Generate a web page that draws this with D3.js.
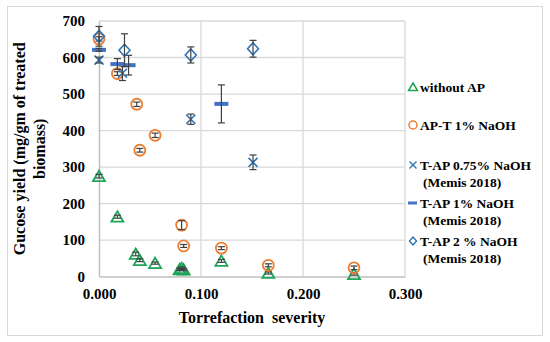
<!DOCTYPE html>
<html>
<head>
<meta charset="utf-8">
<script src="https://cdn.jsdelivr.net/npm/d3@7"></script>
<style>
  body { margin: 0; background: #fff; }
  svg { display: block; font-family: "Liberation Serif", "Times New Roman", serif; font-weight: bold; }
</style>
</head>
<body>
<svg width="550" height="342"></svg>
<script>
// data
var xTicks = [0, 0.1, 0.2, 0.3];
var yTicks = [0, 100, 200, 300, 400, 500, 600, 700];

var withoutApX = [0.000, 0.018, 0.036, 0.040, 0.055, 0.079, 0.081, 0.083, 0.120, 0.166, 0.250];
var withoutApY = [275, 164, 62, 45, 37, 20, 23, 19, 43, 10, 7];
var withoutApErr = [5, 4, 5, 4, 3, 3, 3, 3, 4, 3, 3];

var apTX = [0.000, 0.018, 0.037, 0.040, 0.055, 0.081, 0.083, 0.120, 0.166, 0.250];
var apTY = [651, 556, 472, 346, 387, 141, 84, 78, 31, 24];
var apTErr = [6, 5, 6, 5, 6, 12, 4, 4, 4, 5];

var tap075X = [0.000, 0.023, 0.090, 0.151];
var tap075Y = [593, 557, 431, 313];
var tap075Err = [8, 20, 14, 20];

var tap1X = [0.000, 0.018, 0.029, 0.120];
var tap1Y = [621, 582, 579, 473];
var tap1Err = [4, 15, 27, 52];

var tap2X = [0.000, 0.025, 0.090, 0.151];
var tap2Y = [658, 620, 607, 624];
var tap2Err = [27, 45, 22, 23];

var seriesNames = ["without AP", "AP-T 1% NaOH", "T-AP 0.75% NaOH", "T-AP 1% NaOH", "T-AP 2 % NaOH"];

var green = "#1ea55a", orange = "#ed7d31", blue = "#2e75b6", blueDash = "#4472c4";

var svg = d3.select("svg");
var plotLeft = 99, plotRight = 405, plotTop = 21, plotBottom = 276.6;

var x = d3.scaleLinear().domain([0, 0.3]).range([plotLeft, plotRight]);
var y = d3.scaleLinear().domain([0, 700]).range([plotBottom, plotTop]);

// chart border
svg.append("rect")
  .attr("x", 7.5).attr("y", 6.5).attr("width", 535).attr("height", 329)
  .attr("fill", "#fff").attr("stroke", "#d9d9d9");

// grid
svg.append("g").selectAll("line")
  .data(yTicks.slice(1))
  .enter().append("line")
  .attr("x1", plotLeft).attr("x2", plotRight)
  .attr("y1", function(d) { return y(d); }).attr("y2", function(d) { return y(d); })
  .attr("stroke", "#d9d9d9").attr("stroke-width", 1.3);

svg.append("g").selectAll("line")
  .data(xTicks.slice(1))
  .enter().append("line")
  .attr("x1", function(d) { return x(d); }).attr("x2", function(d) { return x(d); })
  .attr("y1", plotTop).attr("y2", plotBottom)
  .attr("stroke", "#d9d9d9").attr("stroke-width", 1.3);

// axes
var xAxis = svg.append("g")
  .attr("transform", "translate(0," + plotBottom + ")")
  .call(d3.axisBottom(x).tickValues(xTicks).tickSize(0).tickPadding(12).tickFormat(d3.format(".3f")));
var yAxis = svg.append("g")
  .attr("transform", "translate(" + plotLeft + ",0)")
  .call(d3.axisLeft(y).tickValues(yTicks).tickSize(0).tickPadding(14));

[xAxis, yAxis].forEach(function(a) {
  a.select(".domain").attr("stroke", "#bfbfbf").attr("stroke-width", 1.5);
  a.selectAll("text")
    .attr("fill", "#000")
    .style("font-family", "Liberation Serif, serif")
    .style("font-weight", "bold")
    .style("font-size", "15px");
});

// titles
svg.append("text")
  .attr("x", (plotLeft + plotRight) / 2).attr("y", 323)
  .attr("text-anchor", "middle")
  .style("font-size", "16px")
  .style("white-space", "pre")
  .text("Torrefaction  severity");

var yt = svg.append("text")
  .attr("transform", "translate(25," + ((plotTop + plotBottom) / 2) + ") rotate(-90)")
  .attr("text-anchor", "middle")
  .style("font-size", "16px");
yt.append("tspan").attr("x", 0).attr("dy", 0).text("Gucose yield (mg/gm of treated");
yt.append("tspan").attr("x", 0).attr("dy", 20).text("biomass)");

// error bars
function errorBars(xs, ys, errs) {
  var g = svg.append("g");
  xs.forEach(function(xv, i) {
    var cx = x(xv), y1 = y(ys[i] + errs[i]), y2 = y(ys[i] - errs[i]);
    g.append("line").attr("x1", cx).attr("x2", cx).attr("y1", y1).attr("y2", y2)
      .attr("stroke", "#404040").attr("stroke-width", 1.2);
    [y1, y2].forEach(function(yy) {
      g.append("line").attr("x1", cx - 3.5).attr("x2", cx + 3.5).attr("y1", yy).attr("y2", yy)
        .attr("stroke", "#404040").attr("stroke-width", 1.2);
    });
  });
}

var triangle = "M0,-5.5L6,5L-6,5Z";
var diamond = "M0,-6L5.5,0L0,6L-5.5,0Z";
var cross = "M-4.5,-4.5L4.5,4.5M-4.5,4.5L4.5,-4.5";

function drawShape(g, kind, cx, cy) {
  if (kind === "tri") {
    g.append("path").attr("d", triangle).attr("transform", "translate(" + cx + "," + cy + ")")
      .attr("fill", "none").attr("stroke", green).attr("stroke-width", 1.8);
  } else if (kind === "circle") {
    g.append("circle").attr("cx", cx).attr("cy", cy).attr("r", 5.5)
      .attr("fill", "none").attr("stroke", orange).attr("stroke-width", 1.8);
  } else if (kind === "cross") {
    g.append("path").attr("d", cross).attr("transform", "translate(" + cx + "," + cy + ")")
      .attr("fill", "none").attr("stroke", blue).attr("stroke-width", 1.6);
  } else if (kind === "dash") {
    g.append("rect").attr("x", cx - 7).attr("y", cy - 2).attr("width", 14).attr("height", 4)
      .attr("fill", blueDash);
  } else if (kind === "diamond") {
    g.append("path").attr("d", diamond).attr("transform", "translate(" + cx + "," + cy + ")")
      .attr("fill", "none").attr("stroke", blue).attr("stroke-width", 1.6);
  }
}

function series(xs, ys, errs, kind) {
  var g = svg.append("g");
  xs.forEach(function(xv, i) { drawShape(g, kind, x(xv), y(ys[i])); });
  errorBars(xs, ys, errs);
}

series(withoutApX, withoutApY, withoutApErr, "tri");
series(apTX, apTY, apTErr, "circle");
series(tap075X, tap075Y, tap075Err, "cross");
series(tap1X, tap1Y, tap1Err, "dash");
series(tap2X, tap2Y, tap2Err, "diamond");

// legend
var legend = [
  { kind: "tri", lines: [seriesNames[0]], y: 87 },
  { kind: "circle", lines: [seriesNames[1]], y: 125 },
  { kind: "cross", lines: [seriesNames[2], "(Memis 2018)"], y: 165 },
  { kind: "dash", lines: [seriesNames[3], "(Memis 2018)"], y: 203 },
  { kind: "diamond", lines: [seriesNames[4], "(Memis 2018)"], y: 241 }
];
var lg = svg.append("g");
legend.forEach(function(d) {
  var g = lg.append("g");
  if (d.kind === "dash") {
    g.append("rect").attr("x", 408).attr("y", d.y - 1.5).attr("width", 9).attr("height", 3).attr("fill", blueDash);
  } else if (d.kind === "tri") {
    g.append("path").attr("d", "M0,-4L4.5,3.5L-4.5,3.5Z").attr("transform", "translate(413," + d.y + ")")
      .attr("fill", "none").attr("stroke", green).attr("stroke-width", 1.5);
  } else if (d.kind === "circle") {
    g.append("circle").attr("cx", 413).attr("cy", d.y).attr("r", 4)
      .attr("fill", "none").attr("stroke", orange).attr("stroke-width", 1.5);
  } else if (d.kind === "cross") {
    g.append("path").attr("d", "M-3.5,-3.5L3.5,3.5M-3.5,3.5L3.5,-3.5").attr("transform", "translate(413," + d.y + ")")
      .attr("fill", "none").attr("stroke", blue).attr("stroke-width", 1.4);
  } else {
    g.append("path").attr("d", "M0,-4L3.5,0L0,4L-3.5,0Z").attr("transform", "translate(413," + d.y + ")")
      .attr("fill", "none").attr("stroke", blue).attr("stroke-width", 1.4);
  }
  d.lines.forEach(function(t, i) {
    g.append("text")
      .attr("x", i === 0 ? 420 : 423).attr("y", d.y + 5 + i * 17)
      .style("font-size", "13.5px")
      .text(t);
  });
});
</script>
</body>
</html>
